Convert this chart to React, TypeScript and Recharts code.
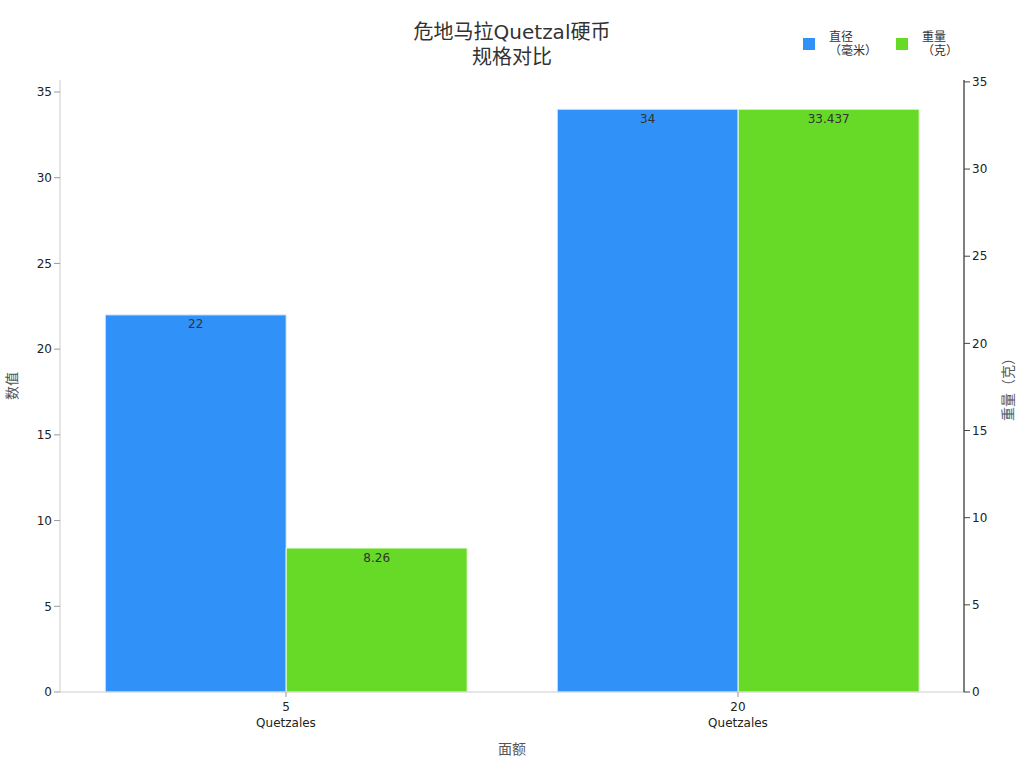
import React from 'react';
import { BarChart, Bar, XAxis, YAxis, LabelList, Legend } from 'recharts';

const denominations = ['5\nQuetzales', '20\nQuetzales'];
const diameterMm = [22, 34];
const weightG = [8.26, 33.437];

const seriesNames = ['直径\n（毫米）', '重量\n（克）'];
const colors = ['#3092F8', '#66DA27'];

const data = denominations.map((d, i) => ({
  name: d,
  diameter: diameterMm[i],
  weight: weightG[i],
}));

const leftMax = Math.max(...diameterMm) * 1.05;
const rightMax = Math.max(...weightG) * 1.05;
const ticks = [0, 5, 10, 15, 20, 25, 30, 35];

const font = '"DejaVu Sans", "Noto Sans CJK SC", sans-serif';

const CategoryTick = (props: any) => {
  const { x, y, payload } = props;
  const lines = String(payload.value).split('\n');
  return (
    <g>
      {lines.map((l: string, i: number) => (
        <text key={i} x={x} y={y + 12 + i * 16} textAnchor="middle" fontSize={12} fill="#222" fontFamily={font}>
          {l}
        </text>
      ))}
    </g>
  );
};

const LegendContent = () => (
  <div style={{ display: 'flex', fontFamily: font, fontSize: 12, color: '#333' }}>
    {seriesNames.map((n, i) => (
      <div key={i} style={{ display: 'flex', alignItems: 'flex-start', width: 93 }}>
        <div style={{ width: 12, height: 12, background: colors[i], marginTop: 8, marginRight: 14 }} />
        <div style={{ lineHeight: '14px' }}>
          {n.split('\n').map((l, j) => (
            <div key={j}>{l}</div>
          ))}
        </div>
      </div>
    ))}
  </div>
);

export default function App() {
  return (
    <div style={{ position: 'absolute', left: 0, top: 0, width: 1024, height: 768, background: '#fff', fontFamily: font }}>
      <div style={{ position: 'absolute', top: 20, left: 0, width: 1024, textAlign: 'center', fontSize: 20, lineHeight: '25px', color: '#333' }}>
        危地马拉Quetzal硬币
        <br />
        规格对比
      </div>
      <BarChart
        width={1024}
        height={768}
        data={data}
        margin={{ top: 80, right: 10, bottom: 36, left: 10 }}
        barCategoryGap="10%"
        barGap={0}
      >
        <XAxis
          dataKey="name"
          tick={<CategoryTick />}
          height={40}
          stroke="#ccc"
          tickLine={{ stroke: '#999' }}
          tickSize={5}
          label={{ value: '面额', position: 'bottom', offset: 12, fontSize: 14, fill: '#555', fontFamily: font }}
        />
        <YAxis
          yAxisId="left"
          domain={[0, leftMax]}
          ticks={ticks}
          width={50}
          stroke="#ccc"
          tick={{ fontSize: 12, fill: '#222', fontFamily: font }}
          tickLine={{ stroke: '#999' }}
          label={{ value: '数值', angle: -90, position: 'insideLeft', offset: 2, fontSize: 14, fill: '#555', fontFamily: font, style: { textAnchor: 'middle' } }}
        />
        <YAxis
          yAxisId="right"
          orientation="right"
          domain={[0, rightMax]}
          ticks={ticks}
          width={50}
          stroke="#000"
          tick={{ fontSize: 12, fill: '#222', fontFamily: font }}
          tickLine={{ stroke: '#444' }}
          label={{ value: '重量（克）', angle: -90, position: 'insideRight', offset: 6, fontSize: 14, fill: '#555', fontFamily: font, style: { textAnchor: 'middle' } }}
        />
        <Legend
          layout="horizontal"
          verticalAlign="middle"
          align="center"
          content={<LegendContent />}
          wrapperStyle={{ top: 30, left: 803, width: 200 }}
        />
        <Bar yAxisId="left" dataKey="diameter" fill={colors[0]} stroke="#e8f2ff" strokeWidth={1} isAnimationActive={false}>
          <LabelList dataKey="diameter" position="insideTop" offset={5} fontSize={12} fill="#333" fontFamily={font} />
        </Bar>
        <Bar yAxisId="right" dataKey="weight" fill={colors[1]} stroke="#eefbe6" strokeWidth={1} isAnimationActive={false}>
          <LabelList dataKey="weight" position="insideTop" offset={5} fontSize={12} fill="#333" fontFamily={font} />
        </Bar>
      </BarChart>
    </div>
  );
}
